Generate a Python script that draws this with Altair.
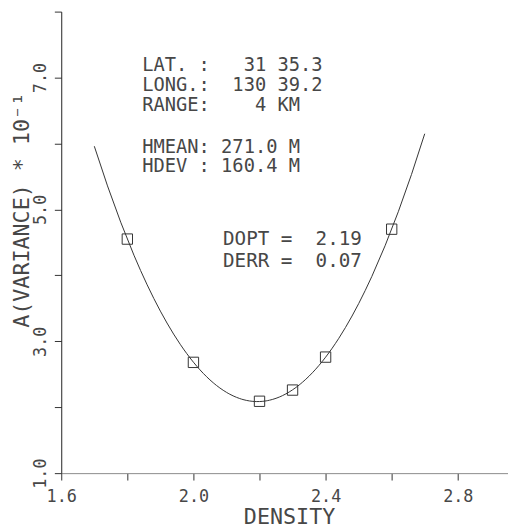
import altair as alt
import pandas as pd

# ---- data ----
density = [1.8, 2.0, 2.2, 2.3, 2.4, 2.6]
variance = [4.55, 2.68, 2.09, 2.26, 2.76, 4.70]
fit_extent = [1.7, 2.7]

x_tick_values = [1.6, 1.8, 2.0, 2.2, 2.4, 2.6, 2.8]
y_tick_values = [1, 2, 3, 4, 5, 6, 7, 8]

info_text = ["LAT. :   31 35.3", "LONG.:  130 39.2", "RANGE:    4 KM",
             "HMEAN: 271.0 M", "HDEV : 160.4 M"]
info_x = [1.845, 1.845, 1.845, 1.845, 1.845]
info_y = [7.098, 6.799, 6.500, 5.854, 5.562]

fit_text = ["DOPT =  2.19", "DERR =  0.07"]
fit_x = [2.0895, 2.0895]
fit_y = [4.455, 4.126]

FONT = "DejaVu Sans Mono"
INK = "#333333"
TEXT = "#474747"

NBSP = "\u00a0"  # keep the column spacing of the fixed-width annotation lines


def keep_spaces(lines):
    return [s.replace(" ", NBSP) for s in lines]


pts = pd.DataFrame({"density": density, "variance": variance})
info = pd.DataFrame({"density": info_x, "variance": info_y, "label": keep_spaces(info_text)})
fit = pd.DataFrame({"density": fit_x, "variance": fit_y, "label": keep_spaces(fit_text)})

xscale = alt.Scale(domain=[1.6, 2.952], nice=False, zero=False)
yscale = alt.Scale(domain=[1, 8], nice=False, zero=False)

xaxis = alt.Axis(
    values=x_tick_values,
    labelExpr="round(datum.value*10) % 4 == 0 ? format(datum.value, '.1f') : ''",
    grid=False, tickSize=7, tickColor=INK, tickWidth=1,
    domainColor="#8a8a8a", domainWidth=1,
    labelPadding=22, labelBaseline="alphabetic", labelFlush=False, labelOverlap=False,
    labelFont=FONT, labelFontSize=17, labelColor=TEXT,
    title="DENSITY", titleFont=FONT, titleFontSize=22, titleFontWeight="normal",
    titleColor=TEXT, titleBaseline="alphabetic", titleX=231, titleY=51,
)
yaxis = alt.Axis(
    values=y_tick_values,
    labelExpr="round(datum.value) % 2 == 1 ? format(datum.value, '.1f') : ''",
    grid=False, tickSize=7, tickColor=INK, tickWidth=1,
    domainColor="#222222", domainWidth=1,
    labelAngle=270, labelAlign="center", labelBaseline="alphabetic",
    labelPadding=9, labelFlush=False, labelOverlap=False,
    labelFont=FONT, labelFontSize=17, labelColor=TEXT,
    title="A(VARIANCE) * 10⁻¹", titleFont=FONT, titleFontSize=22,
    titleFontWeight="normal", titleColor=TEXT, titleAngle=270,
    titleAlign="center", titleBaseline="alphabetic", titleX=-33, titleY=201,
)

X = alt.X("density:Q", scale=xscale, axis=xaxis)
Y = alt.Y("variance:Q", scale=yscale, axis=yaxis)

curve = alt.Chart(pts).transform_regression(
    "density", "variance", method="poly", order=2, extent=fit_extent
).mark_line(color=INK, strokeWidth=1).encode(x=X, y=Y)

squares = alt.Chart(pts).mark_point(
    shape="square", filled=False, size=110, color=INK, strokeWidth=1, opacity=1
).encode(x=X, y=Y)

info_layer = alt.Chart(info).mark_text(
    align="left", baseline="alphabetic", font=FONT, fontSize=19, color=TEXT
).encode(x=X, y=Y, text="label:N")

fit_layer = alt.Chart(fit).mark_text(
    align="left", baseline="alphabetic", font=FONT, fontSize=19.5, color=TEXT
).encode(x=X, y=Y, text="label:N")

chart = alt.layer(curve, squares, info_layer, fit_layer).properties(
    width=453, height=468,
    autosize=alt.AutoSizeParams(type="none"),
    padding={"left": 54, "top": 0, "right": 0, "bottom": 54},
    background="white",
).configure_view(stroke=None)

chart.save("out.html", embed_options={"renderer": "svg", "actions": False})
